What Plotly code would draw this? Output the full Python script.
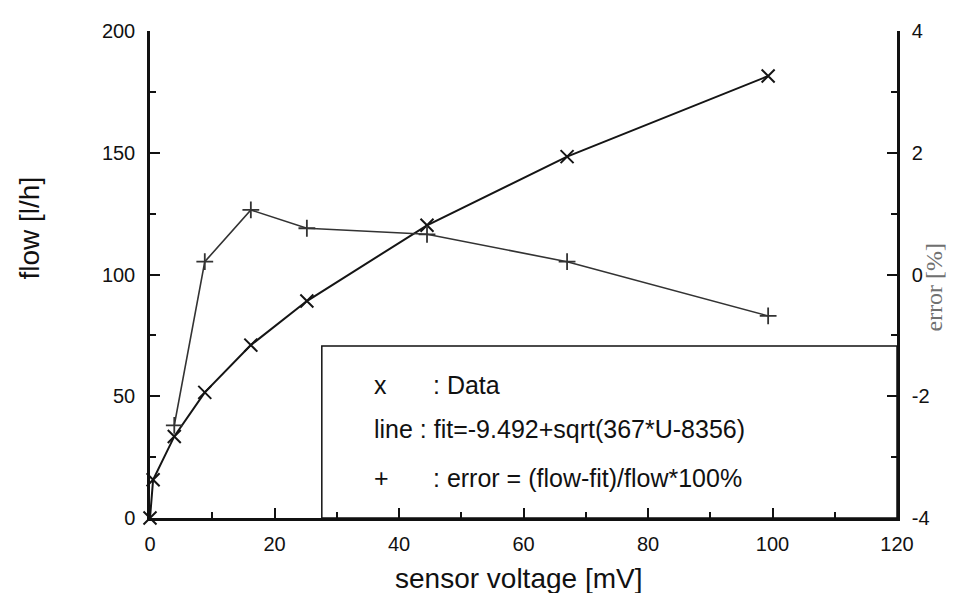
import plotly.graph_objects as go

# data
voltage_flow = [0, 0.5, 3.9, 8.8, 16.2, 25.2, 44.5, 67.0, 99.3]
flow = [0, 15.7, 33.5, 51.6, 71.0, 89.1, 120.2, 148.4, 181.5]

voltage_err = [3.9, 8.8, 16.2, 25.2, 44.5, 67.0, 99.3]
error_pct = [-2.48, 0.21, 1.06, 0.76, 0.66, 0.21, -0.68]

x_ticks = [0, 20, 40, 60, 80, 100, 120]
flow_ticks = [0, 50, 100, 150, 200]
err_ticks = [-4, -2, 0, 2, 4]
err_tick_labels = ["-4", "-2", "0", "2", "4"]

legend_symbols = ["x", "line", "+"]
legend_texts = [": Data", ": fit=-9.492+sqrt(367*U-8356)", ": error = (flow-fit)/flow*100%"]

FONT = "Liberation Sans, Arial, sans-serif"
INK = "#111111"

fig = go.Figure()
fig.add_trace(go.Scatter(
    x=voltage_flow, y=flow, mode="lines+markers",
    line=dict(color="#151515", width=2),
    marker=dict(symbol="x-thin-open", size=13, line=dict(color="#151515", width=2)),
    showlegend=False, cliponaxis=False,
))
fig.add_trace(go.Scatter(
    x=voltage_err, y=error_pct, mode="lines+markers", yaxis="y2",
    line=dict(color="#333333", width=1.6),
    marker=dict(symbol="cross-thin-open", size=12, line=dict(color="#222222", width=1.8)),
    showlegend=False, cliponaxis=False,
))

axis_common = dict(
    showgrid=False, zeroline=False, showline=True, linecolor=INK, linewidth=2.5,
    ticks="inside", ticklen=10, tickwidth=2, tickcolor=INK,
    tickfont=dict(family=FONT, size=20, color=INK),
)

# page body has an 8px margin, so the figure is shifted by 8px; margins compensate
fig.update_layout(
    width=940, height=585,
    margin=dict(l=142, r=51, t=14, b=75),
    paper_bgcolor="white", plot_bgcolor="white",
    xaxis=dict(range=[0, 120], tickvals=x_ticks, ticklabelstandoff=6,
               minor=dict(ticks="inside", dtick=10, ticklen=6, tickwidth=2, tickcolor=INK),
               **axis_common),
    yaxis=dict(range=[0, 200], tickvals=flow_ticks, ticklabelstandoff=8,
               minor=dict(ticks="inside", dtick=25, ticklen=6, tickwidth=2, tickcolor=INK),
               **axis_common),
    yaxis2=dict(range=[-4, 4], tickvals=err_ticks, ticktext=err_tick_labels,
                overlaying="y", side="right", ticklabelstandoff=8,
                minor=dict(ticks="inside", dtick=1, ticklen=6, tickwidth=2, tickcolor=INK),
                **axis_common),
)

# legend box
fig.add_shape(type="rect", xref="paper", yref="paper", x0=0.230, x1=1.0, y0=0.0, y1=0.353,
              line=dict(color=INK, width=1.5), fillcolor="rgba(0,0,0,0)")

legend_y = [0.274, 0.183, 0.083]
LFONT = dict(family=FONT, size=25, color=INK)
for sym, txt, yy in zip(legend_symbols, legend_texts, legend_y):
    if sym == "line":
        fig.add_annotation(xref="paper", yref="paper", x=0.297, y=yy, xanchor="left", yanchor="middle",
                           text=sym + " " + txt, showarrow=False, font=LFONT)
    else:
        fig.add_annotation(xref="paper", yref="paper", x=0.297, y=yy, xanchor="left", yanchor="middle",
                           text=sym, showarrow=False, font=LFONT)
        fig.add_annotation(xref="paper", yref="paper", x=0.376, y=yy, xanchor="left", yanchor="middle",
                           text=txt, showarrow=False, font=LFONT)

# axis titles
fig.add_annotation(xref="paper", yref="paper", x=0.493, y=-0.125, xanchor="center", yanchor="middle",
                   text="sensor voltage [mV]", showarrow=False,
                   font=dict(family=FONT, size=28, color=INK))
fig.add_annotation(xref="paper", yref="paper", x=-0.161, y=0.596, xanchor="center", yanchor="middle",
                   text="flow [l/h]", textangle=-90, showarrow=False,
                   font=dict(family=FONT, size=28, color=INK))
fig.add_annotation(xref="paper", yref="paper", x=1.05, y=0.474, xanchor="center", yanchor="middle",
                   text="error [%]", textangle=-90, showarrow=False,
                   font=dict(family="Liberation Serif, Times New Roman, serif", size=24, color="#707070"))

fig.write_html("out.html")
